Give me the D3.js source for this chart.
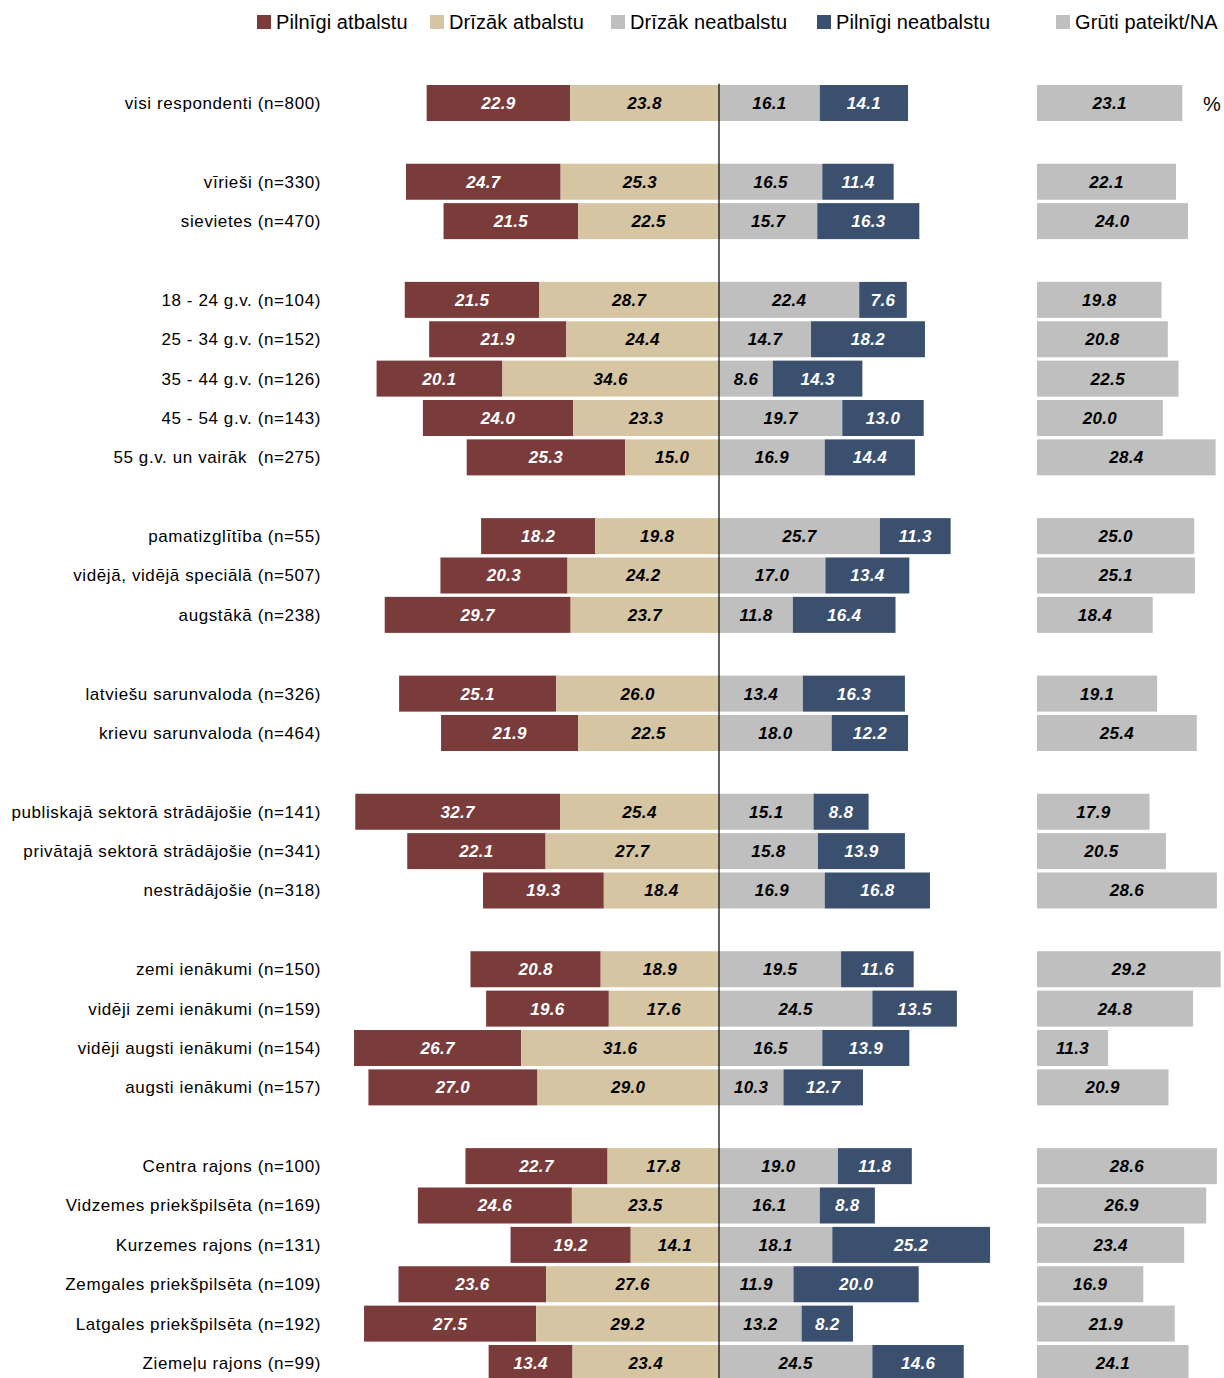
<!DOCTYPE html>
<html lang="lv">
<head>
<meta charset="utf-8">
<title>Atbalsts</title>
<style>
  body { margin: 0; background: #fff; }
  svg text { font-family: "Liberation Sans", Arial, sans-serif; }
</style>
</head>
<body>
<svg id="chart" width="1224" height="1378"></svg>
<script src="https://d3js.org/d3.v7.min.js"></script>
<script>
  // categories in drawing order, grouped (a blank row between groups)
  var categories = [
    "visi respondenti (n=800)",
    "vīrieši (n=330)", "sievietes (n=470)",
    "18 - 24 g.v. (n=104)", "25 - 34 g.v. (n=152)", "35 - 44 g.v. (n=126)",
    "45 - 54 g.v. (n=143)", "55 g.v. un vairāk  (n=275)",
    "pamatizglītība (n=55)", "vidējā, vidējā speciālā (n=507)", "augstākā (n=238)",
    "latviešu sarunvaloda (n=326)", "krievu sarunvaloda (n=464)",
    "publiskajā sektorā strādājošie (n=141)", "privātajā sektorā strādājošie (n=341)",
    "nestrādājošie (n=318)",
    "zemi ienākumi (n=150)", "vidēji zemi ienākumi (n=159)",
    "vidēji augsti ienākumi (n=154)", "augsti ienākumi (n=157)",
    "Centra rajons (n=100)", "Vidzemes priekšpilsēta (n=169)", "Kurzemes rajons (n=131)",
    "Zemgales priekšpilsēta (n=109)", "Latgales priekšpilsēta (n=192)", "Ziemeļu rajons (n=99)"
  ];
  var groupSizes = [1, 2, 5, 3, 2, 3, 4, 6];

  var seriesNames = ["Pilnīgi atbalstu", "Drīzāk atbalstu", "Drīzāk neatbalstu", "Pilnīgi neatbalstu", "Grūti pateikt/NA"];

  var fullySupport = [22.9, 24.7, 21.5, 21.5, 21.9, 20.1, 24.0, 25.3, 18.2, 20.3, 29.7, 25.1, 21.9,
                      32.7, 22.1, 19.3, 20.8, 19.6, 26.7, 27.0, 22.7, 24.6, 19.2, 23.6, 27.5, 13.4];
  var ratherSupport = [23.8, 25.3, 22.5, 28.7, 24.4, 34.6, 23.3, 15.0, 19.8, 24.2, 23.7, 26.0, 22.5,
                       25.4, 27.7, 18.4, 18.9, 17.6, 31.6, 29.0, 17.8, 23.5, 14.1, 27.6, 29.2, 23.4];
  var ratherOppose = [16.1, 16.5, 15.7, 22.4, 14.7, 8.6, 19.7, 16.9, 25.7, 17.0, 11.8, 13.4, 18.0,
                      15.1, 15.8, 16.9, 19.5, 24.5, 16.5, 10.3, 19.0, 16.1, 18.1, 11.9, 13.2, 24.5];
  var fullyOppose = [14.1, 11.4, 16.3, 7.6, 18.2, 14.3, 13.0, 14.4, 11.3, 13.4, 16.4, 16.3, 12.2,
                     8.8, 13.9, 16.8, 11.6, 13.5, 13.9, 12.7, 11.8, 8.8, 25.2, 20.0, 8.2, 14.6];
  var hardToSay = [23.1, 22.1, 24.0, 19.8, 20.8, 22.5, 20.0, 28.4, 25.0, 25.1, 18.4, 19.1, 25.4,
                   17.9, 20.5, 28.6, 29.2, 24.8, 11.3, 20.9, 28.6, 26.9, 23.4, 16.9, 21.9, 24.1];

  var colors = ["#7a3b3b", "#d6c5a3", "#bfbfbf", "#3a506e", "#bfbfbf"];
  var textColors = ["#fff", "#000", "#000", "#fff", "#000"];

  var svg = d3.select("#chart");

  // slot index of each category, leaving an empty slot between groups
  var slots = [];
  var s = 0;
  groupSizes.forEach(function(n) {
    for (var j = 0; j < n; j++) { slots.push(s); s++; }
    s++;
  });
  var nSlots = s - 1;

  var step = 39.375;
  var yTop = 103 - step / 2;
  var y = d3.scaleBand()
    .domain(d3.range(nSlots))
    .range([yTop, yTop + nSlots * step])
    .paddingInner(0.0857)
    .paddingOuter(0.0428);

  var x = d3.scaleLinear().domain([0, 1]).range([719, 719 + 6.26]);
  var x2 = d3.scaleLinear().domain([0, 1]).range([1037, 1037 + 6.29]);

  var rows = categories.map(function(c, i) {
    var segs = [
      {s: 0, x0: -(fullySupport[i] + ratherSupport[i]), x1: -ratherSupport[i], v: fullySupport[i]},
      {s: 1, x0: -ratherSupport[i], x1: 0, v: ratherSupport[i]},
      {s: 2, x0: 0, x1: ratherOppose[i], v: ratherOppose[i]},
      {s: 3, x0: ratherOppose[i], x1: ratherOppose[i] + fullyOppose[i], v: fullyOppose[i]}
    ];
    return {label: c, slot: slots[i], segs: segs, na: hardToSay[i]};
  });

  var bw = y.bandwidth();

  var row = svg.selectAll("g.row")
    .data(rows)
    .join("g")
    .attr("class", "row")
    .attr("transform", function(d) { return "translate(0," + y(d.slot) + ")"; });

  row.append("text")
    .attr("x", 321)
    .attr("y", bw / 2)
    .attr("dy", "0.35em")
    .attr("text-anchor", "end")
    .attr("font-size", 17)
    .attr("letter-spacing", "0.6px")
    .style("white-space", "pre")
    .attr("fill", "#000")
    .text(function(d) { return d.label; });

  var seg = row.selectAll("g.seg")
    .data(function(d) { return d.segs; })
    .join("g")
    .attr("class", "seg");

  seg.append("rect")
    .attr("x", function(d) { return x(d.x0); })
    .attr("width", function(d) { return x(d.x1) - x(d.x0); })
    .attr("height", bw)
    .attr("fill", function(d) { return colors[d.s]; });

  seg.append("text")
    .attr("x", function(d) { return (x(d.x0) + x(d.x1)) / 2; })
    .attr("y", bw / 2)
    .attr("dy", "0.35em")
    .attr("text-anchor", "middle")
    .attr("font-size", 17)
    .attr("font-weight", "bold")
    .attr("font-style", "italic")
    .attr("letter-spacing", "0.3px")
    .attr("fill", function(d) { return textColors[d.s]; })
    .text(function(d) { return d.v.toFixed(1); });

  row.append("rect")
    .attr("x", x2(0))
    .attr("width", function(d) { return x2(d.na) - x2(0); })
    .attr("height", bw)
    .attr("fill", colors[4]);

  row.append("text")
    .attr("x", function(d) { return (x2(0) + x2(d.na)) / 2; })
    .attr("y", bw / 2)
    .attr("dy", "0.35em")
    .attr("text-anchor", "middle")
    .attr("font-size", 17)
    .attr("font-weight", "bold")
    .attr("font-style", "italic")
    .attr("letter-spacing", "0.3px")
    .attr("fill", "#000")
    .text(function(d) { return d.na.toFixed(1); });

  // center line
  svg.append("line")
    .attr("x1", x(0)).attr("x2", x(0))
    .attr("y1", yTop + 0.5).attr("y2", 1378)
    .attr("stroke", "#000")
    .attr("stroke-width", 1.2);

  svg.append("text")
    .attr("x", 1212)
    .attr("y", y(0) + bw / 2)
    .attr("dy", "0.4em")
    .attr("text-anchor", "middle")
    .attr("font-size", 20)
    .text("%");

  // legend
  var legendX = [257, 430, 611, 817, 1056];
  var leg = svg.selectAll("g.leg")
    .data(seriesNames)
    .join("g")
    .attr("class", "leg")
    .attr("transform", function(d, i) { return "translate(" + legendX[i] + ",15)"; });
  leg.append("rect")
    .attr("width", 14).attr("height", 14)
    .attr("fill", function(d, i) { return colors[i]; });
  leg.append("text")
    .attr("x", 19)
    .attr("y", 7)
    .attr("dy", "0.36em")
    .attr("font-size", 20)
    .attr("letter-spacing", "0.1px")
    .text(function(d) { return d; });
</script>
</body>
</html>
